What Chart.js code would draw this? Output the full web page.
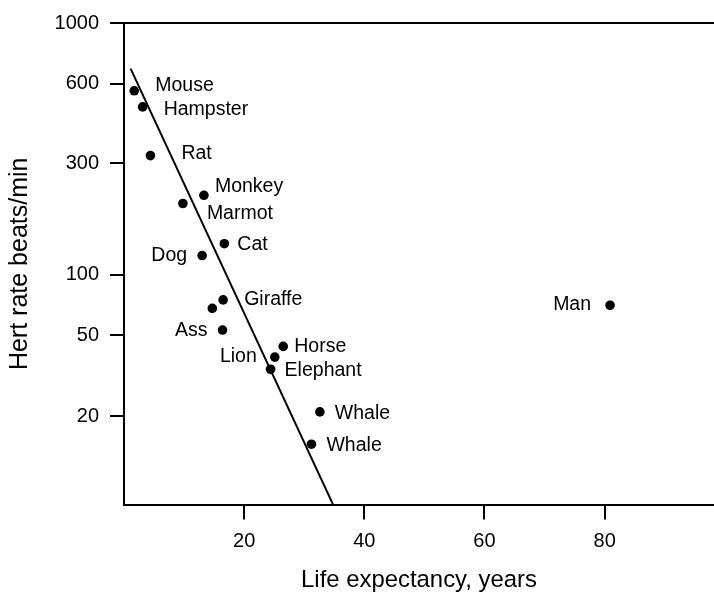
<!DOCTYPE html>
<html>
<head>
<meta charset="utf-8">
<script src="https://cdn.jsdelivr.net/npm/chart.js@4.4.1/dist/chart.umd.min.js"></script>
<style>
  html, body { margin: 0; padding: 0; background: #fff; }
  canvas { display: block; }
</style>
</head>
<body>
<canvas id="c" width="714" height="592"></canvas>
<script>
// ---- data ----
const animals        = ['Mouse', 'Hampster', 'Rat', 'Monkey', 'Marmot', 'Cat', 'Dog', 'Giraffe', '', 'Ass', 'Horse', 'Lion', 'Elephant', 'Whale', 'Whale', 'Man'];
const lifeExpectancy = [1.7, 3.1, 4.4, 13.3, 9.8, 16.7, 13.0, 16.5, 14.7, 16.4, 26.5, 25.1, 24.4, 32.6, 31.2, 80.9];
const heartRate      = [565, 491, 321, 219, 202, 136, 121, 75, 68, 53, 44, 39, 34, 21, 14.6, 70.5];
const trendLifeExpectancy = [1.1, 34.8];
const trendHeartRate      = [682, 7.4];
const xTickValues = [20, 40, 60, 80];
const yTickValues = [1000, 600, 300, 100, 50, 20];

// ---- styling / axis calibration (not data) ----
// The printed axis is not exactly logarithmic: tick spacing measured on the reference.
const yWarpValues    = [7.4, 20, 50, 100, 300, 600, 1000];
const yWarpFractions = [0, 0.1835, 0.3520, 0.4769, 0.7086, 0.8735, 1];
const labelDx = [21, 21, 31, 11, 24, 13, -15, 21, 0, -15, 11, -18, 14, 15, 15, -19];
const labelDy = [-5, 3, -2, -9, 10, 1, 0, 0, 0, 1, 0, 0, 1, 2, 1, -1];
const FONT = '"Liberation Sans", Arial, Helvetica, sans-serif';

class WarpedLogScale extends Chart.LogarithmicScale {
  getPixelForValue(value) {
    if (value === undefined || value === null || !(value > 0)) value = this.min;
    const lv = Math.log10(value);
    let i = 0;
    while (i < yWarpValues.length - 2 && lv > Math.log10(yWarpValues[i + 1])) i++;
    const l0 = Math.log10(yWarpValues[i]), l1 = Math.log10(yWarpValues[i + 1]);
    const t = (lv - l0) / (l1 - l0);
    const d = yWarpFractions[i] + t * (yWarpFractions[i + 1] - yWarpFractions[i]);
    return this.getPixelForDecimal(d);
  }
  getValueForPixel(pixel) {
    const d = this.getDecimalForPixel(pixel);
    let i = 0;
    while (i < yWarpFractions.length - 2 && d > yWarpFractions[i + 1]) i++;
    const t = (d - yWarpFractions[i]) / (yWarpFractions[i + 1] - yWarpFractions[i]);
    const l0 = Math.log10(yWarpValues[i]), l1 = Math.log10(yWarpValues[i + 1]);
    return Math.pow(10, l0 + t * (l1 - l0));
  }
}
WarpedLogScale.id = 'warpedLog';
WarpedLogScale.defaults = { ticks: { callback: (v) => String(v) } };
Chart.register(WarpedLogScale);

const annotate = {
  id: 'annotate',
  afterDatasetsDraw(chart) {
    const ctx = chart.ctx, a = chart.chartArea;
    ctx.save();
    ctx.strokeStyle = '#000';
    ctx.lineWidth = 2;
    ctx.beginPath();
    ctx.moveTo(a.left, Math.round(a.top));
    ctx.lineTo(a.right, Math.round(a.top));
    ctx.stroke();
    const meta = chart.getDatasetMeta(1);
    ctx.font = '19.5px ' + FONT;
    ctx.fillStyle = '#000';
    ctx.textBaseline = 'middle';
    meta.data.forEach((pt, i) => {
      if (!animals[i]) return;
      ctx.textAlign = labelDx[i] < 0 ? 'right' : 'left';
      ctx.fillText(animals[i], pt.x + labelDx[i], pt.y + labelDy[i]);
    });
    ctx.restore();
  }
};

new Chart(document.getElementById('c'), {
  type: 'scatter',
  data: {
    datasets: [
      {
        label: 'trend',
        data: trendLifeExpectancy.map((x, i) => ({ x, y: trendHeartRate[i] })),
        showLine: true,
        borderColor: '#000',
        borderWidth: 2,
        pointRadius: 0,
        fill: false
      },
      {
        label: 'animals',
        data: lifeExpectancy.map((x, i) => ({ x, y: heartRate[i] })),
        pointRadius: 4.8,
        pointBackgroundColor: '#000',
        pointBorderWidth: 0,
        borderColor: '#000'
      }
    ]
  },
  options: {
    responsive: false,
    animation: false,
    devicePixelRatio: 1,
    layout: { autoPadding: false, padding: { top: 20, right: 0, bottom: 0, left: 0 } },
    plugins: { legend: { display: false }, tooltip: { enabled: false } },
    scales: {
      x: {
        type: 'linear',
        position: 'bottom',
        min: 0,
        max: 98.2,
        afterBuildTicks: (s) => { s.ticks = xTickValues.map((v) => ({ value: v })); },
        afterFit: (s) => { s.height = 87.4; },
        grid: { drawOnChartArea: false, drawTicks: true, tickLength: 15, color: '#000', lineWidth: 2 },
        border: { display: true, color: '#000', width: 2 },
        ticks: { color: '#000', font: { family: FONT, size: 20 }, padding: 10, maxRotation: 0, autoSkip: false, callback: (v) => String(v) },
        title: { display: true, text: 'Life expectancy, years', color: '#000', font: { family: FONT, size: 23.9, lineHeight: 1 }, padding: { top: 0, bottom: 0 } }
      },
      y: {
        type: 'warpedLog',
        position: 'left',
        min: 7.4,
        max: 1000,
        afterBuildTicks: (s) => { s.ticks = yTickValues.map((v) => ({ value: v })); },
        afterFit: (s) => { s.width = 124; },
        grid: { drawOnChartArea: false, drawTicks: true, tickLength: 14, color: '#000', lineWidth: 2 },
        border: { display: true, color: '#000', width: 2 },
        ticks: { color: '#000', font: { family: FONT, size: 20 }, padding: 11, autoSkip: false, callback: (v) => String(v) },
        title: { display: true, text: 'Hert rate beats/min', color: '#000', font: { family: FONT, size: 25, lineHeight: 1 }, padding: { top: 8, bottom: 0 } }
      }
    }
  },
  plugins: [annotate]
});
</script>
</body>
</html>
